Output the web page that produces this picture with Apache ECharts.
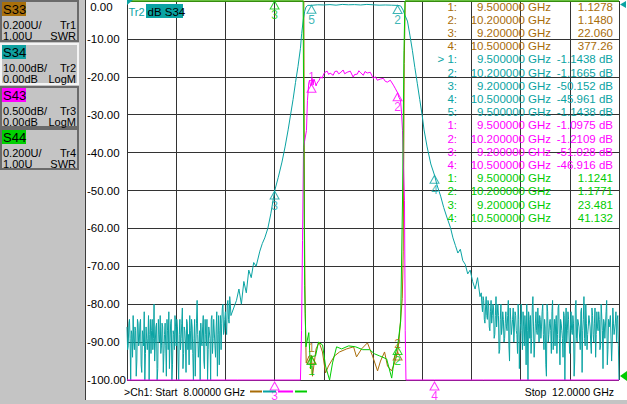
<!DOCTYPE html>
<html>
<head>
<meta charset="utf-8">
<script src="https://cdn.jsdelivr.net/npm/echarts@6/dist/echarts.min.js"></script>
<style>
html,body{margin:0;padding:0;background:#fff;}
#chart{width:627px;height:404px;}
</style>
</head>
<body>
<div id="chart"></div>
<script>
// axis ranges (8-12 GHz, 10 divisions)
var startGHz = 8.0, stopGHz = 12.0, ghzStep = 0.4;
var dbMin = -100, dbMax = 0, dbStep = 10;
var s43Min = -5, s43Max = 0;
var swrMin = 1, swrMax = 3;

// S34 noise floor, two interleaved sweeps of 10 MHz steps
var noiseStep = 0.01;
var s34LowStart = 8.00;
var s34LowNoise = [
    -86,-91,-84,-100,-88,-83,-92,-87,-95,-85,
    -90,-84,-98,-88,-82,-93,-86,-89,-100,-84,
    -87,-92,-80,-90,-85,-97,-88,-83,-91,-86,
    -93,-85,-99,-87,-82,-90,-84,-96,-88,-83,
    -91,-86,-100,-84,-89,-81,-93,-87,-98,-85,
    -88,-83,-92,-86,-100,-84,-90,-79,-94,-87,
    -85,-91,-83,-97,-88,-84,-92,-86,-100,-83,
    -89,-84,-94,-82,-88,-96,-83,-85,-80,-87,
    -82,-88,-79,-85,-80
];
var s34LowNoiseB = [
    -92,-85,-89,-87,-94,-90,-86,-99,-84,-91,
    -85,-96,-87,-91,-100,-86,-92,-83,-88,-93,
    -84,-89,-95,-86,-100,-84,-90,-93,-85,-98,
    -88,-91,-84,-92,-97,-85,-100,-87,-92,-86,
    -84,-95,-88,-92,-85,-97,-86,-90,-84,-92,
    -96,-87,-84,-93,-89,-99,-85,-88,-91,-100,
    -90,-86,-95,-84,-91,-100,-86,-89,-84,-93,
    -84,-91,-86,-99,-83,-87,-92,-81,-88,-84,
    -86,-80,-84,-78,-83
];
var s34HighStart = 10.88;
var s34HighNoise = [
    -77,-82,-79,-85,-78,-84,-80,-87,-79,-83,
    -81,-88,-78,-86,-83,-92,-80,-86,-84,-89,
    -82,-87,-79,-95,-84,-86,-81,-90,-83,-88,
    -80,-97,-85,-87,-82,-91,-86,-80,-100,-84,
    -83,-89,-78,-94,-85,-87,-81,-90,-84,-86,
    -80,-92,-86,-99,-82,-88,-84,-93,-79,-87,
    -91,-83,-88,-80,-96,-85,-89,-82,-100,-81,
    -87,-84,-93,-82,-88,-85,-95,-79,-90,-84,
    -86,-82,-98,-84,-89,-80,-92,-86,-83,-90,
    -81,-88,-85,-94,-82,-87,-84,-91,-80,-97,
    -85,-89,-79,-92,-86,-83,-95,-81,-88,-85,
    -90,-83,-100
];
var s34HighNoiseB = [
    -80,-78,-84,-81,-83,-79,-86,-82,-85,-80,
    -89,-83,-86,-80,-93,-84,-88,-82,-90,-85,
    -86,-83,-91,-81,-88,-84,-90,-82,-87,-93,
    -84,-88,-80,-92,-86,-83,-96,-87,-82,-89,
    -93,-81,-86,-90,-82,-88,-85,-83,-89,-82,
    -88,-84,-96,-80,-90,-85,-87,-82,-92,-84,
    -85,-93,-81,-89,-84,-87,-94,-83,-86,-90,
    -82,-90,-86,-87,-83,-99,-81,-89,-84,-86,
    -92,-81,-87,-78,-91,-85,-88,-83,-86,-93,
    -83,-90,-81,-88,-86,-82,-92,-80,-87,-84,
    -89,-82,-96,-84,-86,-83,-90,-85,-88,-82,
    -84,-91
];
// S34 skirts and passband [GHz, dB]
var s34Filter = [
    [8.89,-79],[8.91,-76],[8.93,-80],[8.95,-74],[8.97,-77],[8.99,-71],[9.01,-73],[9.03,-69],
    [9.05,-70],[9.08,-66],[9.10,-64],[9.12,-62.5],[9.145,-60],[9.17,-56],[9.2,-50.152],
    [9.23,-46.5],[9.26,-42.5],[9.285,-38.5],[9.31,-34],[9.33,-30],[9.35,-26],[9.37,-21.5],
    [9.39,-17.3],[9.41,-12.5],[9.42,-8.6],[9.435,-4.5],[9.445,-2.7],[9.455,-1.6],[9.47,-1.15],
    [9.5,-1.1438],[9.55,-1.0],[9.6,-1.05],[9.65,-0.95],[9.7,-1.1],[9.75,-0.9],[9.8,-1.0],
    [9.85,-0.95],[9.9,-1.05],[9.95,-0.9],[10.0,-1.0],[10.05,-1.1],[10.1,-1.05],[10.15,-1.1],
    [10.2,-1.1665],[10.225,-1.3],[10.245,-2.4],[10.26,-3.8],[10.28,-5.3],[10.3,-9],[10.32,-13],
    [10.34,-17.5],[10.36,-21.7],[10.38,-26],[10.4,-30.2],[10.415,-34],[10.44,-38.5],[10.47,-43],
    [10.5,-45.961],[10.52,-48.5],[10.55,-51.5],[10.575,-54.5],[10.6,-57],[10.63,-59.8],
    [10.65,-62.5],[10.67,-64.5],[10.69,-66.5],[10.71,-65.5],[10.73,-68.5],[10.75,-69.5],
    [10.77,-72],[10.79,-71],[10.81,-74],[10.83,-76],[10.85,-73],[10.87,-78]
];
// S43 [GHz, dB] (0.5 dB/div, off-scale values sit on the bottom line)
var s43Trace = [
    [8.0,-88],[8.9,-79],[9.2,-51.028],[9.35,-25],[9.41,-11],[9.419,-4.35],[9.427,-3.16],
    [9.435,-1.93],[9.459,-1.71],[9.467,-1.31],[9.478,-1.08],[9.484,-1.045],[9.492,-1.12],
    [9.5,-1.0975],[9.504,-1.02],[9.513,-1.11],[9.52,-1.03],[9.529,-1.07],[9.537,-1.12],
    [9.545,-1.085],[9.562,-1.045],[9.575,-1.0],[9.586,-1.02],[9.6,-0.96],[9.61,-0.94],
    [9.627,-0.925],[9.64,-0.97],[9.651,-0.95],[9.676,-0.98],[9.69,-0.93],[9.708,-0.925],
    [9.72,-0.96],[9.733,-0.95],[9.757,-0.91],[9.77,-0.96],[9.79,-0.94],[9.815,-0.925],
    [9.839,-1.005],[9.85,-0.97],[9.872,-0.965],[9.885,-0.92],[9.896,-0.94],[9.921,-0.98],
    [9.935,-0.93],[9.953,-0.95],[9.978,-0.94],[10.002,-1.02],[10.02,-1.0],[10.035,-1.045],
    [10.06,-1.03],[10.084,-1.02],[10.1,-1.06],[10.117,-1.07],[10.141,-1.045],[10.166,-1.11],
    [10.18,-1.15],[10.2,-1.2109],[10.21,-1.27],[10.224,-1.31],[10.232,-1.48],[10.24,-1.71],
    [10.248,-2.2],[10.256,-2.63],[10.262,-4.35],[10.268,-6],[10.3,-13],[10.5,-46.916],
    [10.9,-78],[12.0,-90]
];
// S33 / S44 SWR [GHz, U] (off-scale values sit on the top line)
var s33Trace = [
    [8.0,40],[9.2,22.06],[9.42,9],[9.438,3.4],[9.443,1.79],[9.449,1.35],[9.457,1.09],
    [9.48,1.127],[9.5,1.1278],[9.508,1.02],[9.537,1.164],[9.562,1.2],[9.589,1.148],
    [9.614,1.037],[9.638,1.074],[9.687,1.127],[9.728,1.148],[9.785,1.164],[9.842,1.175],
    [9.866,1.122],[9.907,1.164],[9.955,1.196],[9.996,1.127],[10.037,1.048],[10.061,1.1],
    [10.094,1.148],[10.118,1.074],[10.151,1.048],[10.175,1.09],[10.2,1.148],[10.21,1.2],
    [10.238,1.43],[10.246,1.68],[10.254,2.67],[10.262,5],[10.5,377.26],[12.0,60]
];
var s44Trace = [
    [8.0,50],[9.2,23.481],[9.42,7],[9.432,3.3],[9.438,2.2],[9.444,1.5],[9.455,1.175],
    [9.478,1.25],[9.492,1.058],[9.5,1.1241],[9.533,1.127],[9.557,1.2],[9.59,1.185],
    [9.614,1.074],[9.647,1.0],[9.671,1.09],[9.704,1.175],[9.745,1.164],[9.802,1.18],
    [9.859,1.175],[9.916,1.16],[9.972,1.16],[10.013,1.138],[10.054,1.127],[10.111,1.111],
    [10.152,1.01],[10.176,1.127],[10.2,1.1771],[10.225,1.31],[10.24,1.95],[10.252,2.74],
    [10.26,5],[10.5,41.132],[12.0,60]
];

// markers [number, GHz, value]
var s33Markers = [[1,9.5,1.1278],[2,10.2,1.1480],[3,9.2,22.060],[4,10.5,377.26]];
var s34Markers = [[1,9.5,-1.1438],[2,10.2,-1.1665],[3,9.2,-50.152],[4,10.5,-45.961],[5,9.5,-1.1438]];
var s43Markers = [[1,9.5,-1.0975],[2,10.2,-1.2109],[3,9.2,-51.028],[4,10.5,-46.916]];
var s44Markers = [[1,9.5,1.1241],[2,10.2,1.1771],[3,9.2,23.481],[4,10.5,41.132]];
var s33Shown = [1,2], s34Shown = [2,3,4,5], s43Shown = [1,2,3,4], s44Shown = [1,2,3];

var cBrown = '#a86c08', cTeal = '#0aa3a3', cMag = '#ff00ff', cGreen = '#00cc00';
var FONT = '"Liberation Sans", Arial, sans-serif';

function noisePoints(start, vals) {
    return vals.map(function (v, i) { return [+(start + i * noiseStep).toFixed(3), v]; });
}
function interleave(start, a, b) {
    return noisePoints(start, a).concat(noisePoints(start + noiseStep / 2, b))
        .sort(function (p, q) { return p[0] - q[0]; });
}
function clampTo(data, lo, hi) {
    return data.map(function (p) { return [p[0], Math.min(hi, Math.max(lo, p[1]))]; });
}
function traceSeries(data, yIdx, color, z) {
    return {type: 'line', yAxisIndex: yIdx, data: data, showSymbol: false, symbol: 'none',
        clip: false, z: z, silent: true, lineStyle: {color: color, width: 1}};
}
function markerSeries(list, shown, yIdx, lo, hi, color, topLabels) {
    var items = [];
    list.forEach(function (m) {
        if (shown.indexOf(m[0]) < 0) return;
        var v = m[2], dy = 4;
        if (v > hi) v = hi;
        if (v < lo) { v = lo; dy = 6; }
        var up = topLabels.indexOf(m[0]) >= 0;
        items.push({
            value: [m[1], v],
            symbolOffset: [0, dy],
            label: {show: true, formatter: String(m[0]), position: up ? 'top' : 'bottom',
                distance: up ? 1 : 0, color: color}
        });
    });
    return {type: 'scatter', yAxisIndex: yIdx, data: items, symbol: 'triangle', symbolSize: [9, 8],
        clip: false, z: 6, silent: true,
        itemStyle: {color: 'rgba(0,0,0,0)', borderColor: color, borderWidth: 1},
        label: {fontFamily: FONT, fontSize: 12}};
}

var s34Data = interleave(s34LowStart, s34LowNoise, s34LowNoiseB)
    .concat(s34Filter, interleave(s34HighStart, s34HighNoise, s34HighNoiseB));

// ---- decorations: left panel, marker table, footer ----
var graphics = [];
function txt(x, y, s, color, align, size) {
    graphics.push({type: 'text', x: x, y: y, z: 50, silent: true,
        style: {text: s, fill: color, font: (size || 11.5) + 'px ' + FONT,
            align: align || 'left', verticalAlign: 'middle',
            textAlign: align || 'left', textVerticalAlign: 'middle'}});
}
graphics.push({type: 'rect', shape: {x: 0, y: 0, width: 85, height: 404}, style: {fill: '#c4c4c4'}, z: 40});
graphics.push({type: 'rect', shape: {x: 0, y: 400, width: 627, height: 4}, style: {fill: '#c4c4c4'}, z: 40});
graphics.push({type: 'line', shape: {x1: 85.5, y1: 0, x2: 85.5, y2: 400}, style: {stroke: '#3c3c3c', lineWidth: 1}, z: 41});

var panels = [
    {y: 0, tag: 'S33', bg: '#a8700c', scale: '0.200U/', tr: 'Tr1', ref: '1.00U', fmt: 'SWR'},
    {y: 43, tag: 'S34', bg: '#10a0a0', scale: '10.00dB/', tr: 'Tr2', ref: '0.00dB', fmt: 'LogM', active: true},
    {y: 86, tag: 'S43', bg: '#ff00ff', scale: '0.500dB/', tr: 'Tr3', ref: '0.00dB', fmt: 'LogM'},
    {y: 128, tag: 'S44', bg: '#00d000', scale: '0.200U/', tr: 'Tr4', ref: '1.00U', fmt: 'SWR'}
];
panels.forEach(function (p) {
    graphics.push({type: 'rect', shape: {x: 1, y: p.y + 1, width: 77, height: 40}, z: 42,
        style: {fill: '#c4c4c4', stroke: p.active ? '#f4f4f4' : '#6a6a6a', lineWidth: 2}});
    graphics.push({type: 'rect', shape: {x: 2, y: p.y + 2, width: 24, height: 14}, z: 43, style: {fill: p.bg}});
    txt(3, p.y + 9.5, p.tag, '#000', 'left', 13);
    txt(3, p.y + 24.5, p.scale, '#000', 'left', 11);
    txt(76, p.y + 24.5, p.tr, '#000', 'right', 11);
    txt(3, p.y + 35.5, p.ref, '#000', 'left', 11);
    txt(76, p.y + 35.5, p.fmt, '#000', 'right', 11);
});

// trace title
txt(128.5, 11.5, 'Tr2', cTeal, 'left', 11);
graphics.push({type: 'rect', shape: {x: 146, y: 4, width: 37, height: 14}, z: 45, style: {fill: cTeal}});
txt(147.5, 11.5, 'dB S34', '#000', 'left', 11.5);

// reference position indicators
graphics.push({type: 'polygon', shape: {points: [[127, 0], [133, 0], [127, 5]]}, style: {fill: cTeal}, z: 45});
graphics.push({type: 'polygon', shape: {points: [[626, 1], [626, 8], [620, 4.5]]}, style: {fill: cTeal}, z: 45});
graphics.push({type: 'polygon', shape: {points: [[627, 371], [627, 381], [620, 376]]}, style: {fill: cGreen}, z: 45});

// marker table
var tableRows = [];
[[s33Markers, cBrown, ''], [s34Markers, cTeal, ' dB'], [s43Markers, cMag, ' dB'], [s44Markers, cGreen, '']].forEach(function (t, ti) {
    t[0].forEach(function (m) {
        tableRows.push({n: (ti === 1 && m[0] === 1 ? '> ' : '') + m[0] + ':', f: m[1].toFixed(6),
            v: m[2].toPrecision(5) + t[2], c: t[1]});
    });
});
tableRows.forEach(function (r, i) {
    var y = 6.5 + 13.2 * i;
    txt(457, y, r.n, r.c, 'right');
    txt(525, y, r.f, r.c, 'right');
    txt(528, y, 'GHz', r.c, 'left');
    txt(613, y, r.v, r.c, 'right');
});

// footer
txt(124, 392, '>Ch1: Start  ' + startGHz.toFixed(5) + ' GHz', '#000', 'left', 10.5);
txt(614, 392, 'Stop  ' + stopGHz.toFixed(4) + ' GHz', '#000', 'right', 10.5);
[[250, 262, cBrown], [263, 276, cTeal], [278, 293, cMag], [295, 307, cGreen]].forEach(function (d) {
    graphics.push({type: 'line', shape: {x1: d[0], y1: 391.5, x2: d[1], y2: 391.5}, style: {stroke: d[2], lineWidth: 2}, z: 45});
});

var gridLine = {show: true, lineStyle: {color: '#333', width: 1}};
var option = {
    animation: false,
    backgroundColor: '#fff',
    grid: {left: 127, top: 1, width: 492, height: 379},
    xAxis: {type: 'value', min: startGHz, max: stopGHz, interval: ghzStep,
        axisLine: {show: false}, axisTick: {show: false}, axisLabel: {show: false}, splitLine: gridLine},
    yAxis: [
        {type: 'value', min: dbMin, max: dbMax, interval: dbStep,
            axisLine: {show: false}, axisTick: {show: false}, splitLine: gridLine,
            axisLabel: {align: 'left', margin: 40, color: '#000', fontFamily: FONT, fontSize: 11.5,
                verticalAlignMaxLabel: 'top',
                formatter: function (v) { return (v >= 0 ? ' ' : '') + v.toFixed(2); }}},
        {type: 'value', min: s43Min, max: s43Max, show: false, splitLine: {show: false}},
        {type: 'value', min: swrMin, max: swrMax, show: false, splitLine: {show: false}}
    ],
    series: [
        traceSeries(clampTo(s33Trace, swrMin, swrMax), 2, cBrown, 2),
        traceSeries(clampTo(s34Data, dbMin, dbMax), 0, cTeal, 3),
        traceSeries(clampTo(s43Trace, s43Min, s43Max), 1, cMag, 4),
        traceSeries(clampTo(s44Trace, swrMin, swrMax), 2, cGreen, 5),
        markerSeries(s33Markers, s33Shown, 2, swrMin, swrMax, cBrown, [1, 2]),
        markerSeries(s34Markers, s34Shown, 0, dbMin, dbMax, cTeal, []),
        markerSeries(s43Markers, s43Shown, 1, s43Min, s43Max, cMag, [1]),
        markerSeries(s44Markers, s44Shown, 2, swrMin, swrMax, cGreen, [])
    ],
    graphic: {elements: graphics}
};

var myChart = echarts.init(document.getElementById('chart'), null, {renderer: 'svg'});
myChart.setOption(option);
</script>
</body>
</html>
